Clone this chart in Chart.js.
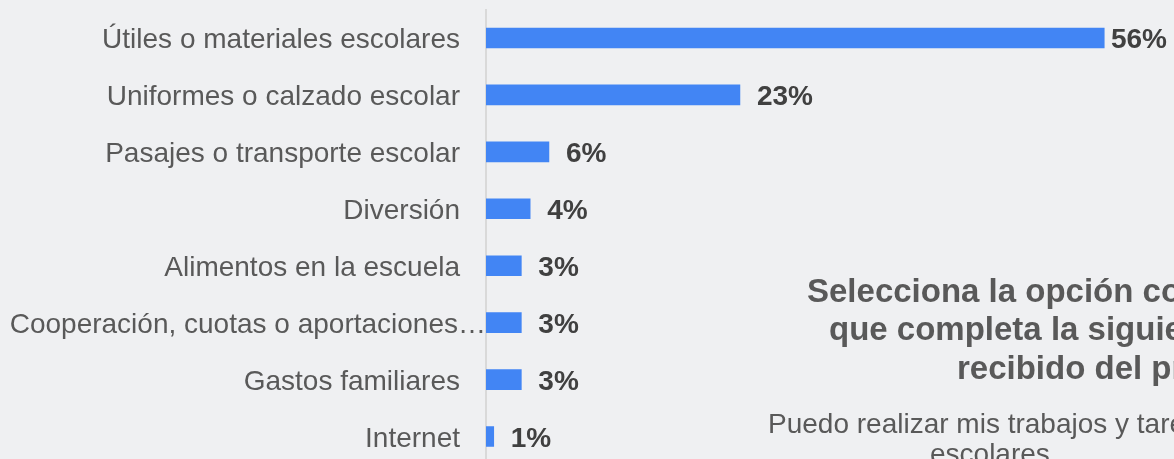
<!DOCTYPE html>
<html lang="es">
<head>
<meta charset="utf-8">
<script src="https://cdn.jsdelivr.net/npm/chart.js@4"></script>
<style>
    html, body { margin: 0; padding: 0; background: #eff0f2; overflow: hidden; }
    #zone { position: relative; width: 1174px; height: 459px; overflow: hidden; font-family: Arial, "Liberation Sans", sans-serif; }
    #graphique { position: absolute; left: 0; top: 0; }
    .titre { position: absolute; font-weight: bold; font-size: 33px; line-height: 1; color: #595959; white-space: nowrap; }
    .sous { position: absolute; font-size: 28px; line-height: 1; color: #595959; white-space: nowrap; }
</style>
</head>
<body>
<div id="zone">
    <canvas id="graphique" width="1174" height="465"></canvas>
    <div class="titre" style="left:807px; top:274px;">Selecciona la opción con la</div>
    <div class="titre" style="left:829px; top:312px;">que completa la siguiente</div>
    <div class="titre" style="left:957px; top:351px;">recibido del programa</div>
    <div class="sous" style="left:768px; top:410px;">Puedo realizar mis trabajos y tareas</div>
    <div class="sous" style="left:930px; top:440px;">escolares</div>
</div>
<script>
// Données
var categories = [
    'Útiles o materiales escolares',
    'Uniformes o calzado escolar',
    'Pasajes o transporte escolar',
    'Diversión',
    'Alimentos en la escuela',
    'Cooperación, cuotas o aportaciones…',
    'Gastos familiares',
    'Internet'
];
var valeurs = [56, 23, 5.7, 4, 3.2, 3.2, 3.2, 0.7];
var etiquettes = ['56%', '23%', '6%', '4%', '3%', '3%', '3%', '1%'];
var echelleMax = 60;

var police = 'Arial, "Liberation Sans", sans-serif';

// Plugin pour écrire les catégories à gauche et les pourcentages au bout des barres
var etiquettesPlugin = {
    id: 'etiquettes',
    afterDatasetsDraw: function(chart) {
        var ctx = chart.ctx;
        var yScale = chart.scales.y;
        var barres = chart.getDatasetMeta(0).data;

        ctx.save();
        ctx.textBaseline = 'alphabetic';

        // Catégories
        ctx.font = '28px ' + police;
        ctx.fillStyle = '#595959';
        ctx.textAlign = 'right';
        categories.forEach(function(cat, i) {
            var x = chart.chartArea.left - 26;
            // les points de suspension dépassent vers l'axe
            if (cat.endsWith('…')) {
                x += ctx.measureText('…').width - 2;
            }
            ctx.fillText(cat, x, yScale.getPixelForValue(i) + 10);
        });

        // Valeurs
        ctx.font = 'bold 28px ' + police;
        ctx.fillStyle = '#404040';
        ctx.textAlign = 'left';
        barres.forEach(function(barre, i) {
            var largeur = ctx.measureText(etiquettes[i]).width;
            var x = Math.min(barre.x + 17, chart.width - 7 - largeur);
            ctx.fillText(etiquettes[i], x, barre.y + 10);
        });

        ctx.restore();
    }
};

var ctx = document.getElementById('graphique').getContext('2d');
var monGraphique = new Chart(ctx, {
    type: 'bar',
    data: {
        labels: categories,
        datasets: [{
            data: valeurs,
            backgroundColor: '#4285f4',
            borderWidth: 0,
            barThickness: 20
        }]
    },
    options: {
        indexAxis: 'y',
        responsive: false,
        animation: false,
        devicePixelRatio: 1,
        layout: {
            padding: { top: 9.5, right: 25.6, bottom: 0, left: 0 }
        },
        plugins: {
            legend: { display: false },
            tooltip: { enabled: false }
        },
        scales: {
            x: {
                display: false,
                min: 0,
                max: echelleMax
            },
            y: {
                grid: { display: false, drawTicks: false },
                border: { display: true, color: '#d9d9d9', width: 2 },
                ticks: { display: false },
                afterFit: function(scale) {
                    scale.width = 486;
                }
            }
        }
    },
    plugins: [etiquettesPlugin]
});
</script>
</body>
</html>
